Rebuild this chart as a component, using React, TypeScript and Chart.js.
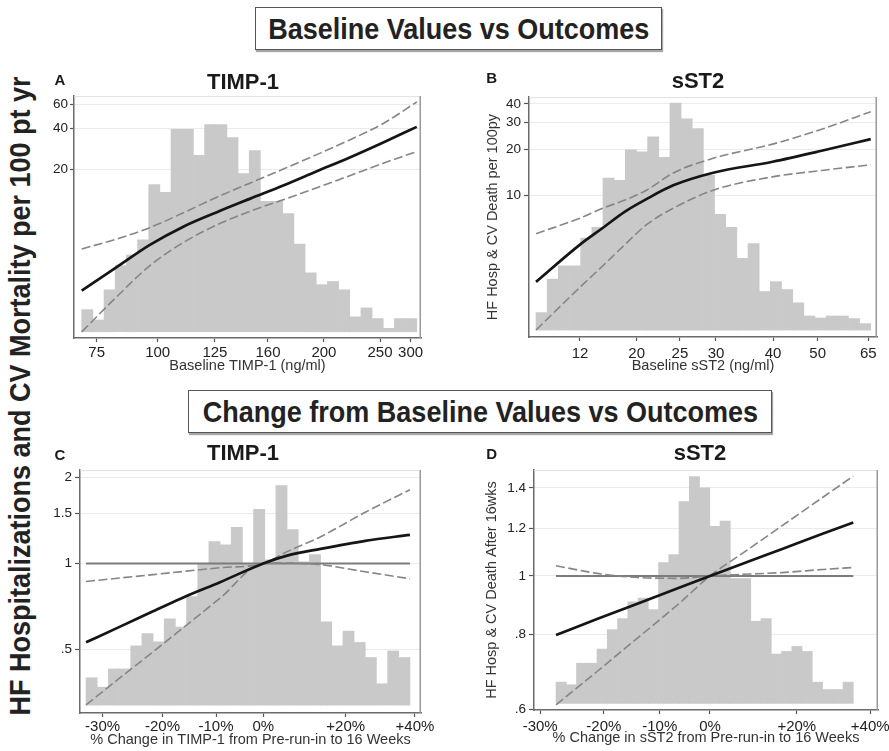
import React, { useEffect, useRef } from 'react';
import { Chart, registerables } from 'chart.js';

Chart.register(...registerables);

const FONT = "'Liberation Sans', Arial, Helvetica, sans-serif";

// ---------- Panel A : baseline TIMP-1 ----------
const A_X_TICKS = [1.34, 6.8, 11.93, 16.68, 21.69, 26.71, 29.45];
const A_X_LABELS = ['75', '100', '125', '160', '200', '250', '300'];
const A_Y_TICKS = [20, 40, 60];
const A_Y_LABELS = ['20', '40', '60'];
const A_HIST = [0.77, 0.41, 1.46, 2.3, 2.67, 3.2, 5.12, 4.85, 7.04, 7.04, 6.14, 7.21, 7.21, 6.76, 5.5, 6.3, 4.54, 4.54, 4.11, 3.05, 2.05, 1.64, 1.75, 1.46, 0.52, 0.83, 0.46, 0.12, 0.46, 0.46];
const A_X = [0, 3.1, 6.1, 9.1, 12.1, 15.1, 18.1, 21, 24, 27, 30];
const A_FIT = [2.52, 3.75, 5.5, 7.5, 9.6, 12.1, 15.2, 19.2, 24.4, 31.5, 41.1];
const A_UPPER = [5.13, 6.07, 7.38, 9.51, 12.4, 15.8, 20.1, 25.5, 32.9, 43.5, 62.8];
const A_LOWER = [1.25, 2.26, 3.86, 5.73, 7.73, 9.78, 11.9, 14.5, 17.9, 22.1, 27];

// ---------- Panel B : baseline sST2 ----------
const B_X_TICKS = [3.94, 9.02, 12.9, 16.13, 21.24, 25.24, 29.78];
const B_X_LABELS = ['12', '20', '25', '30', '40', '50', '65'];
const B_Y_TICKS = [10, 20, 30, 40];
const B_Y_LABELS = ['10', '20', '30', '40'];
const B_HIST = [0.62, 1.81, 2.28, 2.28, 3.27, 3.65, 5.4, 5.32, 6.4, 6.33, 6.86, 6.13, 8.06, 7.5, 7.15, 5.49, 4.11, 3.65, 2.55, 3.07, 1.37, 1.72, 1.44, 0.97, 0.5, 0.43, 0.5, 0.5, 0.41, 0.23];
const B_X = [0, 3.94, 5.97, 7.97, 9.9, 12.3, 15.88, 21.2, 25.6, 30];
const B_FIT = [2.68, 4.72, 6.07, 7.79, 9.42, 11.6, 14.05, 16.6, 19.6, 23.4];
const B_UPPER = [5.57, 7.05, 8.19, 9.28, 10.78, 14.0, 17.5, 21.7, 27.2, 35.5];
const B_LOWER = [1.29, 2.47, 3.41, 4.72, 6.38, 8.19, 10.78, 13.2, 14.55, 15.85];

// ---------- Panel C : change in TIMP-1 ----------
const C_X_TICKS = [1.48, 6.85, 11.64, 15.87, 23.25, 29.45];
const C_X_LABELS = ['-30%', '-20%', '-10%', '0%', '+20%', '+40%'];
const C_Y_TICKS = [0.5, 1, 1.5, 2];
const C_Y_LABELS = ['.5', '1', '1.5', '2'];
const C_HIST = [0.96, 0.63, 1.27, 1.27, 2.08, 2.51, 2.22, 3.03, 2.74, 3.81, 4.97, 5.74, 5.63, 6.24, 4.96, 6.87, 5.1, 7.71, 6.16, 5.03, 5.28, 2.92, 2.08, 2.6, 2.2, 1.67, 0.75, 1.9, 1.67];
const C_X = [0, 3, 6, 9, 12, 15.87, 18, 21, 25, 29];
const C_FIT = [0.53, 0.6, 0.68, 0.77, 0.86, 1.0, 1.065, 1.125, 1.2, 1.259];
const C_UPPER = [0.865, 0.889, 0.914, 0.94, 0.966, 1.0, 1.1, 1.24, 1.51, 1.81];
const C_LOWER = [0.32, 0.397, 0.491, 0.609, 0.756, 1.0, 1.003, 0.99, 0.935, 0.884];
const C_REF_X = [0, 29];
const C_REF = [1, 1];

// ---------- Panel D : change in sST2 ----------
const D_X_TICKS = [-1.55, 4.66, 10.12, 15.02, 23.49, 30.65];
const D_X_LABELS = ['-30%', '-20%', '-10%', '0%', '+20%', '+40%'];
const D_Y_TICKS = [0.6, 0.8, 1, 1.2, 1.4];
const D_Y_LABELS = ['.6', '.8', '1', '1.2', '1.4'];
const D_HIST = [0.81, 0.71, 1.53, 1.53, 2.07, 2.81, 3.23, 3.87, 4.01, 3.57, 5.37, 5.67, 7.69, 8.64, 8.21, 6.75, 6.95, 4.76, 4.76, 3.13, 3.23, 1.88, 1.98, 2.17, 1.98, 0.81, 0.53, 0.53, 0.81];
const D_X = [0, 4, 8, 12, 15.02, 18, 22, 26, 29];
const D_FIT = [0.798, 0.848, 0.9, 0.956, 1.0, 1.045, 1.108, 1.175, 1.227];
const D_UPPER = [1.04, 1.01, 0.994, 0.991, 1.0, 1.006, 1.013, 1.025, 1.033];
const D_LOWER = [0.611, 0.694, 0.79, 0.9, 1.0, 1.085, 1.21, 1.35, 1.465];
const D_REF_X = [0, 29];
const D_REF = [1, 1];

type Spec = {
  key: string;
  area: { left: number; top: number; right: number; bottom: number };
  xMin: number; xMax: number;
  xTicks: number[]; xLabels: string[];
  xTickLen: number; xTickPad: number;
  xTitle: string; xTitleY: number;
  yMin: number; yMax: number;
  yTicks: number[]; yLabels: string[];
  yTickLen: number; yTickPad: number;
  yTitle?: string; yTitleX?: number;
  histMin: number; histMax: number;
  hist: number[];
  cx: number[]; fit: number[]; upper: number[]; lower: number[];
  refX?: number[]; ref?: number[];
};

const PANELS: Spec[] = [
  {
    key: 'A', area: { left: 74, top: 94, right: 421, bottom: 338 },
    xMin: -0.69, xMax: 30.38, xTicks: A_X_TICKS, xLabels: A_X_LABELS, xTickLen: 4, xTickPad: 2,
    xTitle: 'Baseline TIMP-1 (ng/ml)', xTitleY: 366,
    yMin: 1.126, yMax: 69.4, yTicks: A_Y_TICKS, yLabels: A_Y_LABELS, yTickLen: 4, yTickPad: 2,
    histMin: -0.217, histMax: 8.2, hist: A_HIST,
    cx: A_X, fit: A_FIT, upper: A_UPPER, lower: A_LOWER,
  },
  {
    key: 'B', area: { left: 529, top: 94, right: 877, bottom: 337 },
    xMin: -0.63, xMax: 30.56, xTicks: B_X_TICKS, xLabels: B_X_LABELS, xTickLen: 4, xTickPad: 4,
    xTitle: 'Baseline sST2 (ng/ml)', xTitleY: 366,
    yMin: 1.16, yMax: 44.3, yTicks: B_Y_TICKS, yLabels: B_Y_LABELS, yTickLen: 5, yTickPad: 3,
    yTitle: 'HF Hosp & CV Death per 100py', yTitleX: 493,
    histMin: -0.245, histMax: 8.27, hist: B_HIST,
    cx: B_X, fit: B_FIT, upper: B_UPPER, lower: B_LOWER,
  },
  {
    key: 'C', area: { left: 80, top: 467, right: 421, bottom: 713 },
    xMin: -0.54, xMax: 29.99, xTicks: C_X_TICKS, xLabels: C_X_LABELS, xTickLen: 4, xTickPad: 1,
    xTitle: '% Change in TIMP-1 from Pre-run-in to 16 Weeks', xTitleY: 740,
    yMin: 0.301, yMax: 2.12, yTicks: C_Y_TICKS, yLabels: C_Y_LABELS, yTickLen: 5, yTickPad: 3,
    histMin: -0.277, histMax: 8.25, hist: C_HIST,
    cx: C_X, fit: C_FIT, upper: C_UPPER, lower: C_LOWER, refX: C_REF_X, ref: C_REF,
  },
  {
    key: 'D', area: { left: 534, top: 467, right: 878, bottom: 710 },
    xMin: -2.15, xMax: 31.41, xTicks: D_X_TICKS, xLabels: D_X_LABELS, xTickLen: 4, xTickPad: 4,
    xTitle: '% Change in sST2 from Pre-run-in to 16 Weeks', xTitleY: 738,
    yMin: 0.599, yMax: 1.499, yTicks: D_Y_TICKS, yLabels: D_Y_LABELS, yTickLen: 5, yTickPad: 3,
    yTitle: 'HF Hosp & CV Death After 16wks', yTitleX: 491.7,
    histMin: -0.252, histMax: 8.89, hist: D_HIST,
    cx: D_X, fit: D_FIT, upper: D_UPPER, lower: D_LOWER, refX: D_REF_X, ref: D_REF,
  },
];

const Y_W = 70;
const X_H = 38;
const PAD_T = 8;
const PAD_R = 22;
const TITLE_SIZE = 14.5;
const TITLE_LH = TITLE_SIZE * 1.2;

const framePlugin = {
  id: 'frame',
  afterDatasetsDraw(chart: any) {
    const { ctx, chartArea } = chart;
    const { left, top, right, bottom } = chartArea;
    ctx.save();
    ctx.strokeStyle = '#e0e0e0';
    ctx.lineWidth = 1;
    ctx.beginPath();
    ctx.moveTo(left, top + 0.5);
    ctx.lineTo(right, top + 0.5);
    ctx.stroke();
    ctx.strokeStyle = '#9a9a9a';
    ctx.lineWidth = 1.5;
    ctx.beginPath();
    ctx.moveTo(right - 0.75, top);
    ctx.lineTo(right - 0.75, bottom);
    ctx.stroke();
    ctx.restore();
  },
};

function Panel({ spec }: { spec: Spec }) {
  const ref = useRef<HTMLCanvasElement | null>(null);
  const { area } = spec;
  const cLeft = area.left - Y_W;
  const cTop = area.top - PAD_T;
  const cW = area.right - cLeft + PAD_R;
  const cH = area.bottom - cTop + X_H;

  useEffect(() => {
    if (!ref.current) return;
    const toPts = (xs: number[], ys: number[]) => xs.map((x, i) => ({ x, y: ys[i] }));
    const datasets: any[] = [
      {
        type: 'bar',
        data: spec.hist.map((v, i) => ({ x: i + 0.5, y: v })),
        yAxisID: 'yh',
        backgroundColor: '#c9c9c9',
        borderWidth: 0,
        barPercentage: 1,
        categoryPercentage: 1,
        order: 10,
      },
    ];
    if (spec.refX && spec.ref) {
      datasets.push({
        type: 'line', data: toPts(spec.refX, spec.ref), yAxisID: 'y',
        borderColor: '#7c7c7c', borderWidth: 2, pointRadius: 0, order: 4,
      });
    }
    const dashed = { type: 'line', yAxisID: 'y', borderColor: '#858585', borderWidth: 1.6, borderDash: [9, 3.5], pointRadius: 0, cubicInterpolationMode: 'monotone', order: 3 };
    datasets.push({ ...dashed, data: toPts(spec.cx, spec.lower) });
    datasets.push({ ...dashed, data: toPts(spec.cx, spec.upper) });
    datasets.push({
      type: 'line', data: toPts(spec.cx, spec.fit), yAxisID: 'y',
      borderColor: '#151515', borderWidth: 2.7, pointRadius: 0, cubicInterpolationMode: 'monotone', order: 1,
    });

    const titleBottomPad = area.bottom + X_H - spec.xTitleY - TITLE_LH / 2;
    const yTitlePad = spec.yTitleX !== undefined ? spec.yTitleX - cLeft - TITLE_LH / 2 : 0;

    const chart = new Chart(ref.current, {
      type: 'line',
      data: { datasets },
      plugins: [framePlugin],
      options: {
        animation: false,
        responsive: false,
        devicePixelRatio: 1,
        layout: { padding: { left: 0, top: PAD_T, right: PAD_R, bottom: 0 } },
        plugins: { legend: { display: false }, tooltip: { enabled: false } },
        scales: {
          x: {
            type: 'linear',
            offset: false,
            min: spec.xMin,
            max: spec.xMax,
            afterBuildTicks: (s: any) => { s.ticks = spec.xTicks.map((v) => ({ value: v })); },
            afterFit: (s: any) => { s.height = X_H; },
            ticks: {
              autoSkip: false, maxRotation: 0, minRotation: 0,
              padding: spec.xTickPad,
              color: '#222',
              font: { family: FONT, size: 15 },
              callback: (_v: any, i: number) => spec.xLabels[i],
            },
            grid: { display: true, offset: false, drawOnChartArea: false, drawTicks: true, tickLength: spec.xTickLen, tickColor: '#555', tickWidth: 1.2 },
            border: { display: true, color: '#6b6b6b', width: 1.5 },
            title: {
              display: true, text: spec.xTitle, color: '#333',
              font: { family: FONT, size: TITLE_SIZE }, padding: { top: 0, bottom: titleBottomPad },
            },
          },
          y: {
            type: 'logarithmic',
            position: 'left',
            min: spec.yMin,
            max: spec.yMax,
            afterBuildTicks: (s: any) => { s.ticks = spec.yTicks.map((v) => ({ value: v })); },
            afterFit: (s: any) => { s.width = Y_W; },
            ticks: {
              autoSkip: false,
              padding: spec.yTickPad,
              color: '#222',
              font: { family: FONT, size: 13.5 },
              callback: (_v: any, i: number) => spec.yLabels[i],
            },
            grid: { display: true, drawOnChartArea: true, color: '#ebebeb', lineWidth: 1, drawTicks: true, tickLength: spec.yTickLen, tickColor: '#555', tickWidth: 1.2 },
            border: { display: true, color: '#6b6b6b', width: 1.5 },
            title: {
              display: !!spec.yTitle, text: spec.yTitle || '', color: '#333',
              font: { family: FONT, size: TITLE_SIZE }, padding: { top: yTitlePad, bottom: 0 },
            },
          },
          yh: {
            type: 'linear',
            display: false,
            min: spec.histMin,
            max: spec.histMax,
          },
        },
      } as any,
    });
    return () => chart.destroy();
  }, []);

  return (
    <canvas
      ref={ref}
      width={cW}
      height={cH}
      style={{ position: 'absolute', left: cLeft, top: cTop, width: cW, height: cH }}
    />
  );
}

function Header({ text, left, top, width, height }: { text: string; left: number; top: number; width: number; height: number }) {
  return (
    <div
      style={{
        position: 'absolute', left, top, width, height, boxSizing: 'border-box',
        border: '1px solid #555', background: '#fff',
        boxShadow: '1px 2px 1px rgba(0,0,0,0.35)',
        display: 'flex', alignItems: 'center', justifyContent: 'center',
      }}
    >
      <span style={{ display: 'inline-block', whiteSpace: 'nowrap', fontFamily: FONT, fontWeight: 'bold', fontSize: 30, color: '#222', transform: 'scaleX(0.9)' }}>
        {text}
      </span>
    </div>
  );
}

function Label({ text, x, y, size, weight = 'bold' }: { text: string; x: number; y: number; size: number; weight?: string }) {
  return (
    <div
      style={{
        position: 'absolute', left: x, top: y, transform: 'translate(-50%, -50%)',
        whiteSpace: 'nowrap', fontFamily: FONT, fontWeight: weight as any, fontSize: size, color: '#1a1a1a', lineHeight: 1.15,
      }}
    >
      {text}
    </div>
  );
}

export default function App() {
  return (
    <div style={{ position: 'absolute', left: 0, top: 0, width: 889, height: 751, overflow: 'hidden', background: '#fff' }}>
      <Header text="Baseline Values vs Outcomes" left={255} top={7} width={407} height={43} />
      <Header text="Change from Baseline Values vs Outcomes" left={188} top={390} width={584} height={43} />
      <div
        style={{
          position: 'absolute', left: 20, top: 396,
          transform: 'translate(-50%, -50%) rotate(-90deg) scaleX(0.9)',
          whiteSpace: 'nowrap', fontFamily: FONT, fontWeight: 'bold', fontSize: 30, color: '#222', lineHeight: 1.15,
        }}
      >
        HF Hospitalizations and CV Mortality per 100 pt yr
      </div>
      {PANELS.map((p) => <Panel key={p.key} spec={p} />)}
      <Label text="A" x={60} y={80} size={15} />
      <Label text="B" x={491.7} y={78} size={15} />
      <Label text="C" x={60} y={455} size={15} />
      <Label text="D" x={491.7} y={454} size={15} />
      <Label text="TIMP-1" x={243} y={82} size={22} />
      <Label text="sST2" x={698} y={81} size={22} />
      <Label text="TIMP-1" x={243} y={453} size={22} />
      <Label text="sST2" x={700} y={453} size={22} />
    </div>
  );
}
